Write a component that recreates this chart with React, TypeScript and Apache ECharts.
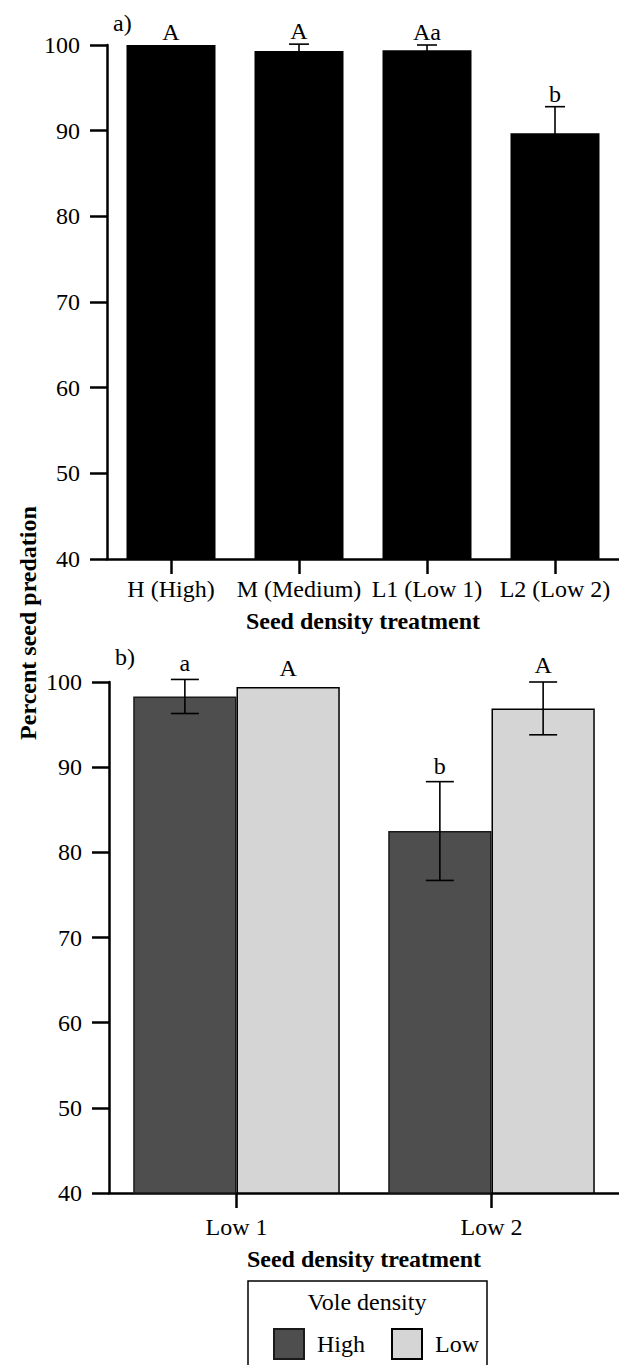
import React, { useEffect, useRef } from "react";
import * as echarts from "echarts";

// ---- Data ----
const topCategories = ["H (High)", "M (Medium)", "L1 (Low 1)", "L2 (Low 2)"];
const topValues = [100, 99.3, 99.4, 89.7];
const topErrors = [0, 0.8, 0.6, 3.1];
const topLetters = ["A", "A", "Aa", "b"];

const bottomCategories = ["Low 1", "Low 2"];
const highValues = [98.3, 82.5];
const highErrors = [2.0, 5.8];
const highLetters = ["a", "b"];
const lowValues = [99.4, 96.9];
const lowErrors = [0.3, 3.1];
const lowLetters = ["A", "A"];

const yTicksMin = 40;
const yTicksMax = 100;
const yTicksStep = 10;

const FONT = "'Liberation Serif', 'Times New Roman', 'DejaVu Serif', serif";
const FS = 24;
const DARK = "#4e4e4e";
const LIGHT = "#d5d5d5";

function errorSeries(
  xIdx: number,
  values: number[],
  errors: number[],
  letters: string[],
  offsetSign: number,
  capW: number,
  labelGap: number
) {
  return {
    type: "custom",
    xAxisIndex: xIdx,
    yAxisIndex: xIdx,
    clip: false,
    z: 10,
    data: values.map((v, i) => [i, v, errors[i]]),
    encode: { x: 0, y: 1 },
    renderItem: (params: any, api: any) => {
      const i = api.value(0);
      const v = api.value(1);
      const e = api.value(2);
      const band = api.size([1, 0])[0];
      const off = offsetSign === 0 ? 0 : (offsetSign * band * 0.81) / 4;
      const top = api.coord([i, v + e]);
      const bot = api.coord([i, v - e]);
      const cx = top[0] + off;
      const children: any[] = [];
      if (e > 0.35) {
        const st = { stroke: "#000", lineWidth: 1.6 };
        children.push(
          { type: "line", shape: { x1: cx, y1: top[1], x2: cx, y2: bot[1] }, style: st },
          { type: "line", shape: { x1: cx - capW / 2, y1: top[1], x2: cx + capW / 2, y2: top[1] }, style: st },
          { type: "line", shape: { x1: cx - capW / 2, y1: bot[1], x2: cx + capW / 2, y2: bot[1] }, style: st }
        );
      }
      children.push({
        type: "text",
        style: {
          x: cx,
          y: top[1] - labelGap,
          text: letters[params.dataIndex],
          fill: "#000",
          font: `${FS}px ${FONT}`,
          align: "center",
          verticalAlign: "middle",
        },
      });
      return { type: "group", children };
    },
  };
}

function yAxisCfg(gridIndex: number) {
  return {
    type: "value",
    gridIndex,
    min: yTicksMin,
    max: yTicksMax,
    interval: yTicksStep,
    axisLine: { show: true, lineStyle: { color: "#000", width: 2.5 } },
    axisTick: { show: true, length: 17, lineStyle: { color: "#000", width: 2.5 } },
    axisLabel: { color: "#000", fontSize: FS, fontFamily: FONT, margin: 27 },
    splitLine: { show: false },
  };
}

function xAxisCfg(gridIndex: number, data: string[], labelMargin: number, nameGap: number) {
  return {
    type: "category",
    gridIndex,
    data,
    name: "Seed density treatment",
    nameLocation: "middle",
    nameGap,
    nameTextStyle: { color: "#000", fontSize: 24, fontWeight: "bold", fontFamily: FONT },
    axisLine: { show: true, lineStyle: { color: "#000", width: 2.5 } },
    axisTick: { show: true, alignWithLabel: true, length: 15, lineStyle: { color: "#000", width: 2.5 } },
    axisLabel: { color: "#000", fontSize: FS, fontFamily: FONT, margin: labelMargin, interval: 0 },
  };
}

export default function App() {
  const ref = useRef<HTMLDivElement>(null);
  useEffect(() => {
    document.body.style.margin = "0";
    const chart = echarts.init(ref.current!, null, { renderer: "svg" });
    chart.setOption({
      animation: false,
      backgroundColor: "#fff",
      grid: [
        { left: 107, top: 45, width: 516, height: 514 },
        { left: 109, top: 682, width: 514, height: 511 },
      ],
      xAxis: [xAxisCfg(0, topCategories, 18, 50), xAxisCfg(1, bottomCategories, 22, 54)],
      yAxis: [yAxisCfg(0), yAxisCfg(1)],
      legend: {
        data: ["High", "Low"],
        left: 268,
        top: 1323,
        itemWidth: 30,
        itemHeight: 30,
        itemGap: 26,
        icon: "rect",
        textStyle: { color: "#000", fontSize: FS, fontFamily: FONT, padding: [0, 0, 0, 8] },
      },
      graphic: [
        {
          type: "text",
          x: 113,
          y: 11,
          style: { text: "a)", font: `${FS}px ${FONT}`, fill: "#000" },
        },
        {
          type: "text",
          x: 115,
          y: 645,
          style: { text: "b)", font: `${FS}px ${FONT}`, fill: "#000" },
        },
        {
          type: "text",
          x: 28,
          y: 623,
          rotation: Math.PI / 2,
          style: {
            text: "Percent seed predation",
            font: `bold 24px ${FONT}`,
            fill: "#000",
            align: "center",
            verticalAlign: "middle",
          },
        },
        {
          type: "rect",
          shape: { x: 248, y: 1281, width: 239, height: 100 },
          style: { fill: "none", stroke: "#000", lineWidth: 1.5 },
        },
        {
          type: "text",
          x: 367,
          y: 1302,
          style: {
            text: "Vole density",
            font: `${FS}px ${FONT}`,
            fill: "#000",
            align: "center",
            verticalAlign: "middle",
          },
        },
      ],
      series: [
        {
          name: "Top",
          type: "bar",
          xAxisIndex: 0,
          yAxisIndex: 0,
          barWidth: 89,
          data: topValues,
          itemStyle: { color: "#000" },
        },
        errorSeries(0, topValues, topErrors, topLetters, 0, 20, 13),
        {
          name: "High",
          type: "bar",
          xAxisIndex: 1,
          yAxisIndex: 1,
          barGap: "0%",
          barCategoryGap: "19%",
          data: highValues,
          itemStyle: { color: DARK, borderColor: "#1a1a1a", borderWidth: 1.5 },
        },
        {
          name: "Low",
          type: "bar",
          xAxisIndex: 1,
          yAxisIndex: 1,
          barGap: "0%",
          barCategoryGap: "19%",
          data: lowValues,
          itemStyle: { color: LIGHT, borderColor: "#000", borderWidth: 1.5 },
        },
        errorSeries(1, highValues, highErrors, highLetters, -1, 28, 16),
        errorSeries(1, lowValues, lowErrors, lowLetters, 1, 28, 17),
      ],
    });
    return () => chart.dispose();
  }, []);
  return <div ref={ref} style={{ width: 619, height: 1365 }} />;
}
